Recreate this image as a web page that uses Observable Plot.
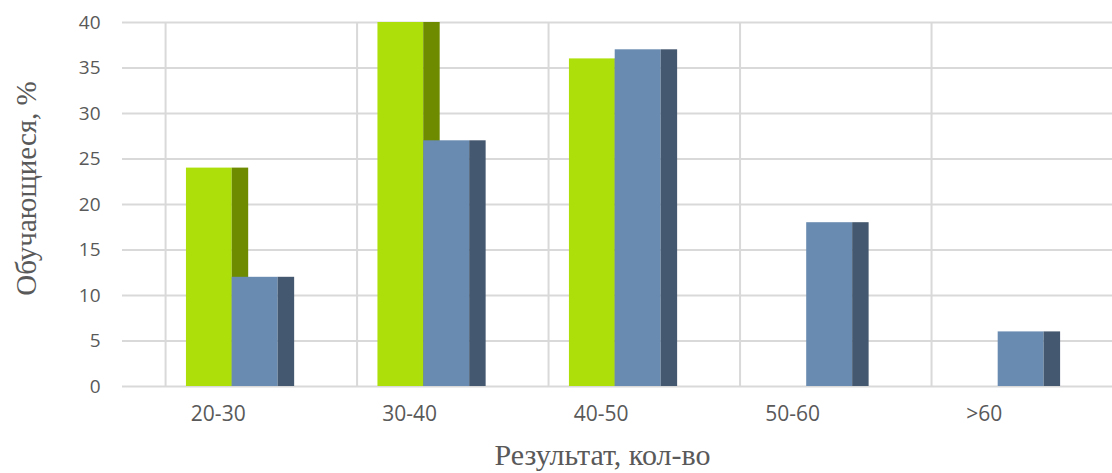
<!DOCTYPE html>
<html>
<head>
<meta charset="utf-8">
<script src="https://cdn.jsdelivr.net/npm/d3@7"></script>
<script src="https://cdn.jsdelivr.net/npm/@observablehq/plot@0.6"></script>
<style>
  html, body { margin: 0; padding: 0; background: #fff; }
  #chart svg { display: block; }
</style>
</head>
<body>
<div id="chart"></div>
<script>
// ---- data ----
const categories = ["20-30", "30-40", "40-50", "50-60", ">60"];
const seriesA = [24, 40, 36, 0, 0];   // green series
const seriesB = [12, 27, 37, 18, 6];  // blue series
const yTicks = [0, 5, 10, 15, 20, 25, 30, 35, 40];
const yTitle = "Обучающиеся, %";
const xTitle = "Результат, кол-во";

// ---- layout (offsets in category units) ----
const series = [
  {values: seriesA, front: "#ADE00A", side: "#6E8B00", start: -0.166, end: 0.073},
  {values: seriesB, front: "#6A8BB1", side: "#44586F", start: 0.073, end: 0.313}
];
const sideW = 0.086;

const rects = [];
series.forEach((s, si) => {
  s.values.forEach((v, i) => {
    if (v > 0) {
      rects.push({i, v, x1: i + s.start, x2: i + s.end, fill: s.front, order: si * 2});
      rects.push({i, v, x1: i + s.end, x2: i + s.end + sideW, fill: s.side, order: si * 2 + 1});
    }
  });
});
rects.sort((a, b) => a.order - b.order);

const vGrid = d3.range(categories.length + 1).map(i => i - 0.275);

const chart = Plot.plot({
  width: 1112,
  height: 473,
  marginTop: 22,
  marginBottom: 87,
  marginLeft: 122,
  marginRight: 0,
  style: {background: "#fff", fontFamily: "'Open Sans', sans-serif"},
  x: {type: "linear", domain: [-0.5, 4.67]},
  y: {domain: [0, 40]},
  marks: [
    Plot.gridY(yTicks, {stroke: "#d9d9d9", strokeOpacity: 1, strokeWidth: 2}),
    Plot.ruleX(vGrid, {x: d => d, stroke: "#d9d9d9", strokeWidth: 2}),
    Plot.rectY(rects, {x1: "x1", x2: "x2", y1: 0, y2: "v", fill: "fill"}),
    Plot.axisY(yTicks, {tickSize: 0, tickPadding: 22, fontSize: 19, fill: "#595959", label: null}),
    Plot.axisX(d3.range(categories.length), {
      tickSize: 0, tickPadding: 20, fontSize: 21, fill: "#595959",
      tickFormat: i => categories[i], label: null
    }),
    Plot.text([yTitle], {
      frameAnchor: "left", textAnchor: "middle", lineAnchor: "middle",
      dx: -96, dy: -16, rotate: -90,
      fontFamily: "'Liberation Serif', 'Times New Roman', serif",
      fontSize: 29, fill: "#595959", text: d => d
    }),
    Plot.text([xTitle], {
      frameAnchor: "bottom", textAnchor: "middle", lineAnchor: "middle",
      dx: -15, dy: 69,
      fontFamily: "'Liberation Serif', 'Times New Roman', serif",
      fontSize: 30, fill: "#595959", text: d => d
    })
  ]
});
document.getElementById("chart").appendChild(chart);
</script>
</body>
</html>
